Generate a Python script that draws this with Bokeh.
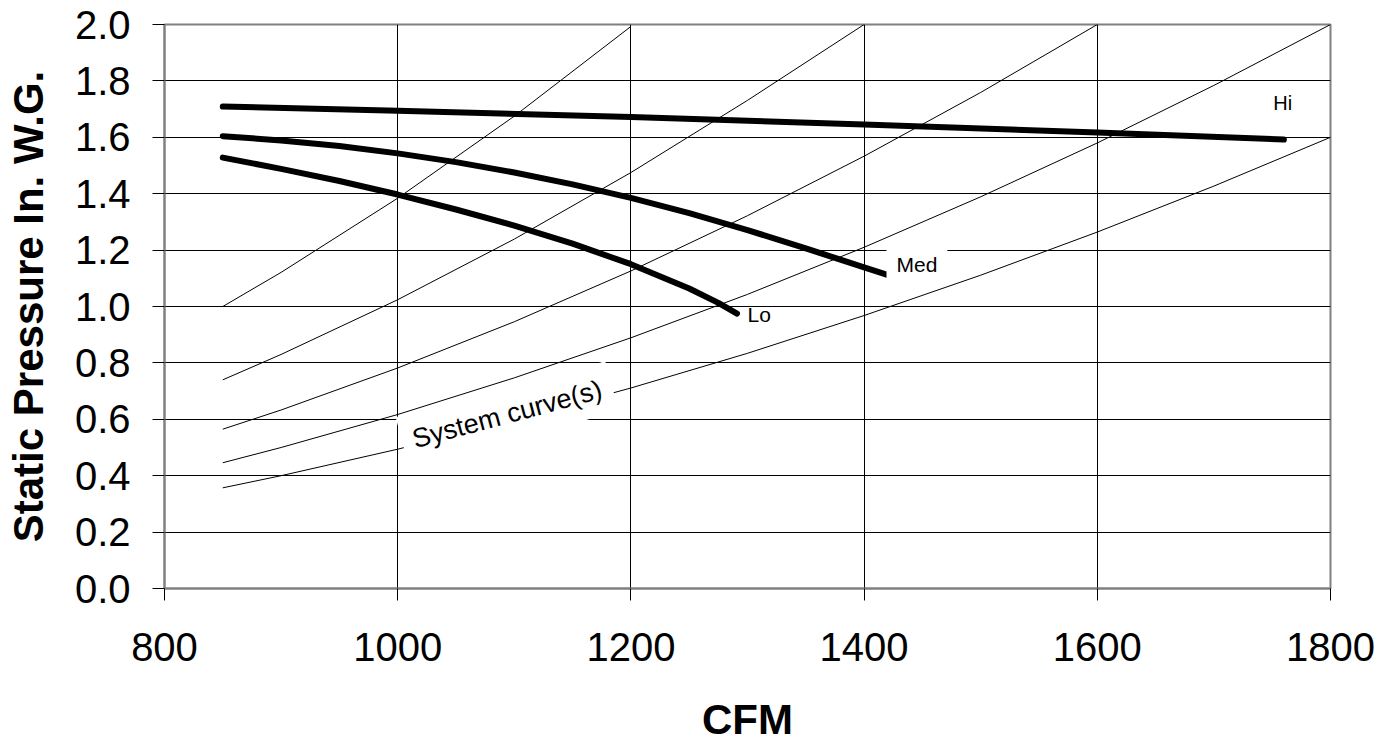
from bokeh.plotting import figure
from bokeh.models import Range1d, FixedTicker, Label, CustomJSTickFormatter
from bokeh.embed import file_html
from bokeh.resources import INLINE

# ---- data ----
series_names = ["Hi", "Med", "Lo"]

hi_cfm = [850, 1000, 1200, 1400, 1600, 1760]
hi_sp = [1.709, 1.694, 1.672, 1.645, 1.617, 1.592]

med_cfm = [850, 900, 950, 1000, 1050, 1100, 1150, 1200, 1250, 1300, 1350, 1400, 1420]
med_sp = [1.604, 1.589, 1.569, 1.543, 1.512, 1.475, 1.433, 1.385, 1.331, 1.271, 1.206, 1.139, 1.112]

lo_cfm = [850, 900, 950, 1000, 1050, 1100, 1150, 1200, 1250, 1275, 1291]
lo_sp = [1.528, 1.488, 1.445, 1.397, 1.344, 1.287, 1.223, 1.150, 1.064, 1.013, 0.975]

sys1_cfm = [850, 900, 1000, 1100, 1200]
sys1_sp = [1.000, 1.121, 1.384, 1.675, 1.993]

sys2_cfm = [850, 900, 1000, 1100, 1200, 1300, 1400]
sys2_sp = [0.740, 0.830, 1.024, 1.239, 1.475, 1.731, 2.000]

sys3_cfm = [850, 900, 1000, 1100, 1200, 1300, 1400, 1500, 1600]
sys3_sp = [0.565, 0.633, 0.782, 0.946, 1.126, 1.322, 1.533, 1.759, 2.000]

sys4_cfm = [850, 900, 1000, 1100, 1200, 1300, 1400, 1500, 1600, 1700, 1800]
sys4_sp = [0.446, 0.500, 0.617, 0.747, 0.889, 1.043, 1.210, 1.389, 1.580, 1.784, 2.000]

sys5_cfm = [850, 900, 1000, 1100, 1200, 1300, 1400, 1500, 1600, 1700, 1800]
sys5_sp = [0.357, 0.400, 0.494, 0.598, 0.711, 0.834, 0.968, 1.111, 1.264, 1.427, 1.600]

x_ticks = [800, 1000, 1200, 1400, 1600, 1800]
y_ticks = [0.0, 0.2, 0.4, 0.6, 0.8, 1.0, 1.2, 1.4, 1.6, 1.8, 2.0]

FONT = "Liberation Sans"

p = figure(width=1390, height=750,
           x_range=Range1d(800, 1800), y_range=Range1d(0, 2.0),
           output_backend="svg", toolbar_location=None,
           min_border_left=164, min_border_right=60,
           min_border_top=24, min_border_bottom=162)

p.background_fill_color = "white"
p.border_fill_color = "white"
p.outline_line_color = "#808080"
p.outline_line_width = 2

# axes
p.xaxis.ticker = FixedTicker(ticks=x_ticks)
p.yaxis.ticker = FixedTicker(ticks=y_ticks)
p.yaxis.formatter = CustomJSTickFormatter(code="return tick.toFixed(1);")
for ax in (p.xaxis[0], p.yaxis[0]):
    ax.axis_line_color = "#808080"
    ax.axis_line_width = 2
    ax.major_tick_line_color = "black"
    ax.major_tick_line_width = 1
    ax.major_tick_in = 0
    ax.major_tick_out = 12
    ax.minor_tick_line_color = None
    ax.major_label_text_font = FONT
    ax.major_label_text_font_size = "40px"
    ax.major_label_text_color = "black"
    ax.axis_label_text_font = FONT
    ax.axis_label_text_font_size = "42px"
    ax.axis_label_text_font_style = "bold"
    ax.axis_label_text_color = "black"

p.xaxis.axis_label = "CFM"
p.yaxis.axis_label = "Static Pressure In. W.G."
p.xaxis.major_label_standoff = 32
p.yaxis.major_label_standoff = 22
p.xaxis.axis_label_standoff = 32
p.yaxis.axis_label_standoff = 20

# grid
p.xgrid.ticker = FixedTicker(ticks=x_ticks)
p.ygrid.ticker = FixedTicker(ticks=y_ticks)
p.xgrid.grid_line_color = "black"
p.ygrid.grid_line_color = "black"
p.xgrid.grid_line_width = 1
p.ygrid.grid_line_width = 1

# system curves
for xs, ys in [(sys1_cfm, sys1_sp), (sys2_cfm, sys2_sp), (sys3_cfm, sys3_sp),
               (sys4_cfm, sys4_sp), (sys5_cfm, sys5_sp)]:
    p.line(xs, ys, line_color="black", line_width=1)

# fan curves
for xs, ys in [(hi_cfm, hi_sp), (med_cfm, med_sp), (lo_cfm, lo_sp)]:
    p.line(xs, ys, line_color="black", line_width=6,
           line_cap="round", line_join="round")

# labels
p.add_layout(Label(x=1751, y=1.723, text=series_names[0], text_font=FONT,
                   text_font_size="20px", text_color="black",
                   text_align="left", text_baseline="alphabetic"))
p.add_layout(Label(x=1419.2, y=1.149, text=series_names[1], text_font=FONT,
                   text_font_size="21px", text_color="black",
                   text_align="left", text_baseline="alphabetic",
                   background_fill_color="white", padding=10))
p.add_layout(Label(x=1300.0, y=0.972, text=series_names[2], text_font=FONT,
                   text_font_size="21px", text_color="black",
                   text_align="left", text_baseline="alphabetic"))
p.add_layout(Label(x=1004.0, y=0.518, text="System curve(s)", text_font=FONT,
                   text_font_size="27px", text_color="black",
                   text_align="left", text_baseline="alphabetic",
                   angle=15, angle_units="deg",
                   background_fill_color="white", padding=11))

open("out.html", "w").write(file_html(p, INLINE))
